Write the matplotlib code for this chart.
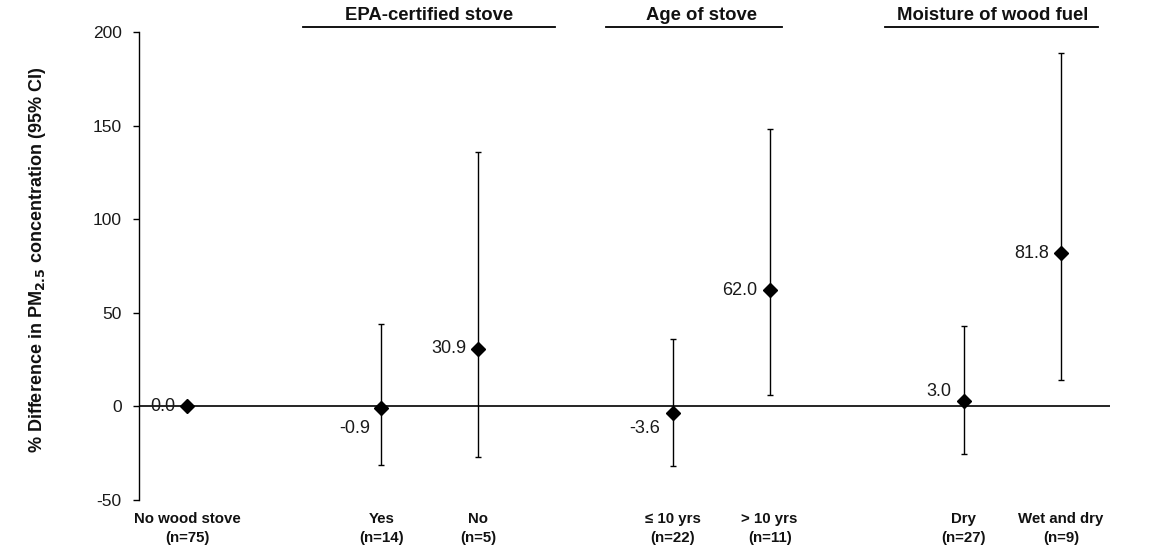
import matplotlib
matplotlib.use("Agg")
import matplotlib.pyplot as plt
import numpy as np

plt.rcParams['font.family'] = ['Liberation Sans', 'DejaVu Sans']

# ---- data ----
categories = ["No wood stove", "", "Yes", "No", "", "\u2264 10 yrs", "> 10 yrs", "", "Dry", "Wet and dry"]
n_labels = ["(n=75)", "", "(n=14)", "(n=5)", "", "(n=22)", "(n=11)", "", "(n=27)", "(n=9)"]
point_idx = [0, 2, 3, 5, 6, 8, 9]
estimates = [0.0, -0.9, 30.9, -3.6, 62.0, 3.0, 81.8]
lower_ci = [0.0, -31.5, -27.0, -32.0, 5.9, -25.6, 13.9]
upper_ci = [0.0, 43.8, 136.0, 36.2, 148.3, 43.2, 189.0]
value_labels = ["0.0", "-0.9", "30.9", "-3.6", "62.0", "3.0", "81.8"]
groups = ["EPA-certified stove", "Age of stove", "Moisture of wood fuel"]
yticks = [-50, 0, 50, 100, 150, 200]

fig = plt.figure(figsize=(11.58, 5.56), dpi=100)
ax = fig.add_axes([138.5/1158, 1-500/556, (1109.5-138.5)/1158, (500-32)/556])

est = np.array(estimates)
lo = np.array(lower_ci)
hi = np.array(upper_ci)
x = np.array(point_idx)

# zero line
ax.axhline(0, color='black', lw=1.2, zorder=1)

mask = hi > lo
ax.errorbar(x[mask], est[mask], yerr=[est[mask]-lo[mask], hi[mask]-est[mask]],
            fmt='none', ecolor='black', elinewidth=1.0, capsize=2.5, capthick=1.0, zorder=2)
ax.plot(x, est, linestyle='none', marker='D', markersize=7.5, color='black', zorder=3)

# value labels (offsets in pixels)
offsets = [(-12, 0), (-11, -20), (-12, 0), (-12, -15), (-12, 0), (-13, 9), (-12, 0)]
for (dx, dy), xi, yi, lab in zip(offsets, x, est, value_labels):
    ax.annotate(lab, (xi, yi), xytext=(dx, dy), textcoords='offset pixels',
                ha='right', va='center', fontsize=13, color='#1a1a1a')

ax.set_xlim(-0.5, 9.5)
ax.set_ylim(-50, 200)
ax.set_yticks(yticks)
ax.set_yticklabels([str(t) for t in yticks], fontsize=12.5, color='#1a1a1a')
ax.tick_params(axis='y', direction='out', length=4, width=1.0, pad=8)
ax.set_xticks([])
for s in ['top', 'right', 'bottom']:
    ax.spines[s].set_visible(False)
ax.spines['left'].set_linewidth(1.0)

# category labels
for i, (c, nl) in enumerate(zip(categories, n_labels)):
    if c:
        ax.annotate(c, (i, 0), xycoords=('data', 'axes fraction'), xytext=(0, -19),
                    textcoords='offset pixels', ha='center', va='center',
                    fontsize=10.8, fontweight='bold', color='#111111')
        ax.annotate(nl, (i, 0), xycoords=('data', 'axes fraction'), xytext=(0, -38),
                    textcoords='offset pixels', ha='center', va='center',
                    fontsize=10.8, fontweight='bold', color='#111111')

# y label
fig.text(38/1158, 1-260/556,
         "% Difference in PM$_{\\mathbf{2.5}}$ concentration (95% CI)",
         rotation=90, ha='center', va='center', fontsize=13, fontweight='bold', color='#111111')

# group headers
header_spans = [(303, 555), (606, 782), (885, 1098)]
header_centers = [429, 702, 993]
for g, (a, b), c in zip(groups, header_spans, header_centers):
    fig.add_artist(plt.Line2D([a/1158, b/1158], [1-27/556, 1-27/556], color='black', lw=1.3))
    fig.text(c/1158, 1-15/556, g, ha='center', va='center', fontsize=13.3, fontweight='bold', color='#111111')

fig.savefig("out.png", dpi=100)
